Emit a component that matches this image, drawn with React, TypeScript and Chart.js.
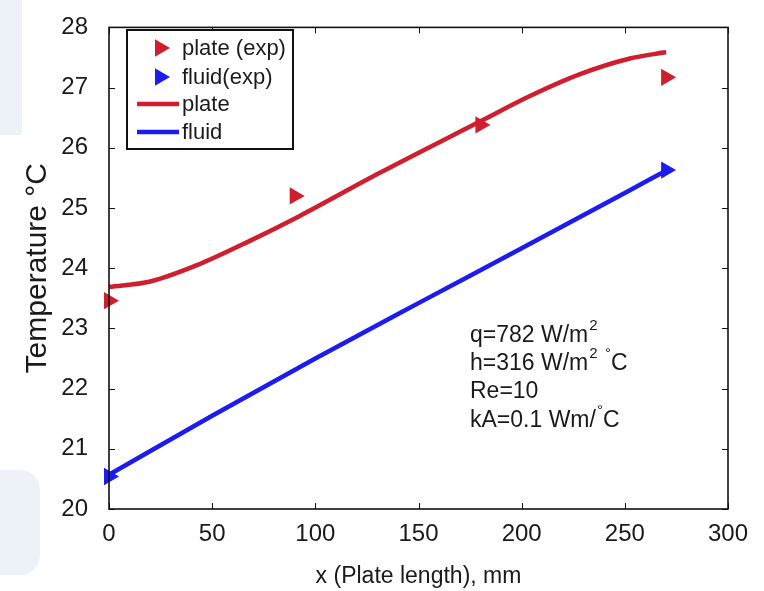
import React, { useEffect, useRef } from "react";
import { Chart, registerables } from "chart.js";

Chart.register(...registerables);

// ---- data ----
const plateExpX = [0, 90, 180, 270];
const plateExpY = [23.46, 25.2, 26.38, 27.17];
const fluidExpX = [0, 270];
const fluidExpY = [20.54, 25.63];
const plateX = [0, 20, 44, 68, 92, 131, 180, 204, 228, 252, 270];
const plateY = [23.69, 23.78, 24.07, 24.45, 24.86, 25.58, 26.44, 26.86, 27.22, 27.48, 27.59];
const fluidX = [0, 50, 100, 150, 200, 250, 270];
const fluidY = [20.57, 21.55, 22.5, 23.42, 24.33, 25.25, 25.62];
const xTicks = [0, 50, 100, 150, 200, 250, 300];
const yTicks = [20, 21, 22, 23, 24, 25, 26, 27, 28];
const legendLabels = ["plate (exp)", "fluid(exp)", "plate", "fluid"];
const xTitle = "x (Plate length), mm";
const yTitle = "Temperature °C";
// each note line: list of [text, isSuperscript]
const noteLines: [string, boolean][][] = [
  [["q=782 W/m", false], ["2", true]],
  [["h=316 W/m", false], ["2", true], [" ", false], ["°", true], ["C", false]],
  [["Re=10", false]],
  [["kA=0.1 Wm/", false], ["°", true], ["C", false]],
];

const RED = "#cf1f2e";
const BLUE = "#1c1cf0";
const FONT = '"Liberation Sans", Arial, Helvetica, sans-serif';
const TEXT = "#1a1a1a";

const toPts = (xs: number[], ys: number[]) => xs.map((x, i) => ({ x, y: ys[i] }));

function tri(ctx: CanvasRenderingContext2D, x: number, y: number, r: number, color: string) {
  ctx.beginPath();
  ctx.moveTo(x + r, y);
  ctx.lineTo(x - r / 2, y - (r * Math.sqrt(3)) / 2);
  ctx.lineTo(x - r / 2, y + (r * Math.sqrt(3)) / 2);
  ctx.closePath();
  ctx.fillStyle = color;
  ctx.fill();
}

const framePlugin = {
  id: "framePlugin",
  afterDraw(chart: any) {
    const ctx: CanvasRenderingContext2D = chart.ctx;
    const { left, right, top, bottom } = chart.chartArea;
    const xs = chart.scales.x;
    const ys = chart.scales.y;
    ctx.save();
    ctx.strokeStyle = "#111";
    ctx.lineWidth = 1.6;
    ctx.strokeRect(left, top, right - left, bottom - top);
    ctx.lineWidth = 1;
    ctx.beginPath();
    xTicks.forEach((v) => {
      const px = Math.round(xs.getPixelForValue(v)) + 0.5;
      ctx.moveTo(px, bottom);
      ctx.lineTo(px, bottom - 6);
      ctx.moveTo(px, top);
      ctx.lineTo(px, top + 6);
    });
    yTicks.forEach((v) => {
      const py = Math.round(ys.getPixelForValue(v)) + 0.5;
      ctx.moveTo(left, py);
      ctx.lineTo(left + 6, py);
      ctx.moveTo(right, py);
      ctx.lineTo(right - 6, py);
    });
    ctx.stroke();

    // legend box
    const lx = 127, ly = 30, lw = 166, lh = 119;
    ctx.fillStyle = "#fff";
    ctx.fillRect(lx, ly, lw, lh);
    ctx.strokeStyle = "#111";
    ctx.lineWidth = 2;
    ctx.strokeRect(lx, ly, lw, lh);
    const rows = [48, 77, 104, 132];
    ctx.font = `22px ${FONT}`;
    ctx.textBaseline = "middle";
    ctx.textAlign = "left";
    rows.forEach((ry, i) => {
      const color = i % 2 === 0 ? RED : BLUE;
      if (i < 2) {
        tri(ctx, 160, ry, 10, color);
      } else {
        ctx.strokeStyle = color;
        ctx.lineWidth = 4.5;
        ctx.beginPath();
        ctx.moveTo(137, ry);
        ctx.lineTo(179, ry);
        ctx.stroke();
      }
      ctx.fillStyle = TEXT;
      ctx.fillText(legendLabels[i], 182, ry + 1);
    });

    // parameter notes
    const nx = 470;
    const noteY = [336, 364, 392, 421];
    noteLines.forEach((segs, i) => {
      let cx = nx;
      segs.forEach(([t, sup]) => {
        if (sup) {
          ctx.font = `15px ${FONT}`;
          ctx.fillStyle = TEXT;
          ctx.fillText(t, cx + 1, noteY[i] - 10);
          cx += ctx.measureText(t).width + 1;
        } else {
          ctx.font = `23px ${FONT}`;
          ctx.fillStyle = TEXT;
          ctx.fillText(t, cx, noteY[i]);
          cx += ctx.measureText(t).width;
        }
      });
    });
    ctx.restore();
  },
};

export default function App() {
  const ref = useRef<HTMLCanvasElement>(null);
  useEffect(() => {
    document.body.style.margin = "0";
    const canvas = ref.current!;
    const chart = new Chart(canvas, {
      type: "scatter",
      data: {
        datasets: [
          {
            label: legendLabels[0],
            data: toPts(plateExpX, plateExpY),
            pointStyle: "triangle",
            pointRotation: 90,
            pointRadius: 10,
            pointBackgroundColor: RED,
            pointBorderWidth: 0,
            backgroundColor: RED,
            borderColor: RED,
            showLine: false,
            clip: false,
          } as any,
          {
            label: legendLabels[1],
            data: toPts(fluidExpX, fluidExpY),
            pointStyle: "triangle",
            pointRotation: 90,
            pointRadius: 10,
            pointBackgroundColor: BLUE,
            pointBorderWidth: 0,
            backgroundColor: BLUE,
            borderColor: BLUE,
            showLine: false,
            clip: false,
          } as any,
          {
            label: legendLabels[2],
            data: toPts(plateX, plateY),
            showLine: true,
            borderColor: RED,
            borderWidth: 4.5,
            pointRadius: 0,
            cubicInterpolationMode: "monotone",
            tension: 0.4,
            clip: false,
          } as any,
          {
            label: legendLabels[3],
            data: toPts(fluidX, fluidY),
            showLine: true,
            borderColor: BLUE,
            borderWidth: 4.5,
            pointRadius: 0,
            cubicInterpolationMode: "monotone",
            tension: 0.4,
            clip: false,
          } as any,
        ],
      },
      options: {
        responsive: false,
        animation: false,
        devicePixelRatio: 1,
        layout: { padding: { left: 0, top: 20, right: 36, bottom: 0 } },
        plugins: { legend: { display: false }, tooltip: { enabled: false } },
        scales: {
          x: {
            type: "linear",
            min: 0,
            max: 300,
            afterFit: (s: any) => {
              s.height = 82;
            },
            afterBuildTicks: (s: any) => {
              s.ticks = xTicks.map((v) => ({ value: v }));
            },
            grid: { display: false },
            border: { display: false },
            ticks: { font: { family: FONT, size: 24 }, color: TEXT, padding: 3, maxRotation: 0 },
            title: {
              display: true,
              text: xTitle,
              font: { family: FONT, size: 23 },
              color: TEXT,
              padding: { top: 0, bottom: 1 },
            },
          },
          y: {
            type: "linear",
            min: 20,
            max: 28,
            afterFit: (s: any) => {
              s.width = 109;
            },
            afterBuildTicks: (s: any) => {
              s.ticks = yTicks.map((v) => ({ value: v }));
            },
            grid: { display: false },
            border: { display: false },
            ticks: { font: { family: FONT, size: 24 }, color: TEXT, padding: 13 },
            title: {
              display: true,
              text: yTitle,
              font: { family: FONT, size: 30 },
              color: TEXT,
              padding: { top: 20, bottom: 0 },
            },
          },
        },
      },
      plugins: [framePlugin],
    });
    return () => chart.destroy();
  }, []);
  return (
    <div style={{ position: "relative", width: 764, height: 591, background: "#fff", overflow: "hidden" }}>
      <div style={{ position: "absolute", left: 0, top: 0, width: 22, height: 135, background: "#edf2f8" }} />
      <div
        style={{
          position: "absolute",
          left: 0,
          top: 470,
          width: 40,
          height: 105,
          background: "#edf2f8",
          borderRadius: "0 20px 20px 0",
        }}
      />
      <canvas ref={ref} width={764} height={591} style={{ position: "absolute", left: 0, top: 0, display: "block" }} />
    </div>
  );
}
